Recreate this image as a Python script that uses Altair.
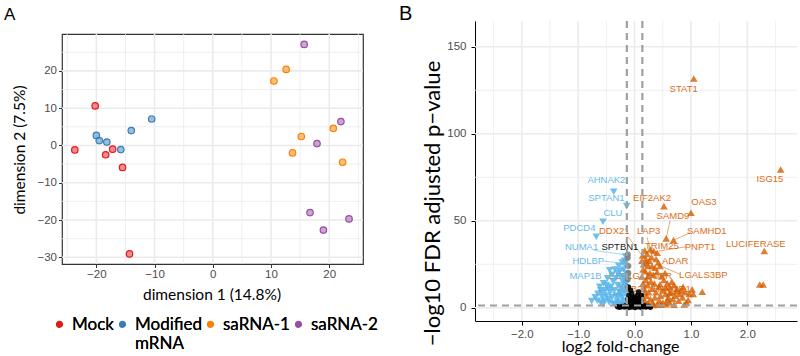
import altair as alt
import pandas as pd

# ---------------- Panel A: MDS plot ----------------
groups = ["Mock", "Modified mRNA", "saRNA-1", "saRNA-2"]
group_colors = ["#E41A1C", "#377EB8", "#FF7F00", "#984EA3"]

mock_x = [-20.2, -23.7, -18.4, -17.2, -15.5, -14.3]
mock_y = [10.6, -1.2, -2.5, -1.0, -5.9, -29.1]
mod_x = [-20.0, -19.5, -18.2, -15.8, -14.0, -10.5]
mod_y = [2.7, 1.3, 0.9, -1.1, 4.0, 7.1]
sa1_x = [10.5, 12.6, 15.2, 13.7, 20.7, 22.3]
sa1_y = [17.3, 20.4, 2.4, -2.0, 4.6, -4.5]
sa2_x = [15.7, 22.0, 17.9, 16.7, 19.0, 23.4]
sa2_y = [27.1, 6.4, 0.5, -18.0, -22.7, -19.7]

A_major_x = [-20, -10, 0, 10, 20]
A_minor_x = [-25, -15, -5, 5, 15, 25]
A_major_y = [-30, -20, -10, 0, 10, 20]
A_minor_y = [-25, -15, -5, 5, 15, 25]

# ---------------- Panel B: volcano plot ----------------
up_x = [1.05, 2.59, 0.52, 1.00, 0.56, 0.69, 0.34, 0.40, 2.30, 2.22, 2.28, 1.20, 1.02, 1.04,
        0.14, 0.18, 0.20, 0.22, 0.26, 0.28, 0.30, 0.38, 0.42, 0.45, 0.36, 0.24, 0.16, 0.19,
        0.27, 0.33, 0.40, 0.48, 0.52, 0.58, 0.62, 0.70, 0.75, 0.83, 0.90, 0.97, 0.13, 0.15,
        0.17, 0.20, 0.23, 0.25, 0.29, 0.31, 0.35, 0.38, 0.43, 0.46, 0.50, 0.55, 0.60, 0.65,
        0.68, 0.72, 0.78, 0.85, 0.92, 0.14, 0.18, 0.21, 0.24, 0.28, 0.32, 0.36, 0.40, 0.44,
        0.50, 0.56, 0.62, 0.70, 0.16, 0.19, 0.26, 0.34, 0.47, 0.58, 0.88, 0.80, 0.66, 0.54,
        0.31, 0.21, 0.15, 0.13, 0.45, 0.55, 0.62, 0.74, 0.86, 0.95, 0.18, 0.24]
up_y = [131.8, 79.5, 58.4, 54.6, 39.9, 38.9, 32.6, 31.6, 32.6, 13.4, 13.4, 9.2, 10.6, 8.0,
        30.0, 33.0, 28.0, 31.0, 27.0, 33.5, 29.0, 28.0, 26.0, 24.0, 23.0, 24.0, 25.0, 21.0,
        20.0, 19.0, 20.5, 18.0, 16.0, 14.0, 12.0, 13.0, 11.0, 10.0, 9.0, 8.0, 18.0, 14.0,
        11.0, 16.0, 13.0, 9.0, 15.0, 11.0, 14.0, 9.0, 12.0, 7.0, 10.0, 8.0, 6.0, 9.0,
        5.0, 7.0, 4.0, 6.0, 3.0, 6.0, 4.0, 7.0, 2.5, 5.0, 3.0, 6.0, 2.0, 4.0,
        3.0, 2.0, 3.0, 1.8, 2.0, 1.5, 1.8, 1.6, 1.7, 4.5, 1.9, 8.0, 15.0, 20.0,
        24.0, 26.0, 22.0, 27.0, 13.5, 11.5, 8.5, 9.5, 12.0, 4.5, 9.0, 18.0]

down_x = [-0.37, -0.14, -0.56, -0.68, -0.76, -0.70, -0.65, -0.60, -0.62, -0.55, -0.50, -0.48,
          -0.44, -0.40, -0.38, -0.35, -0.30, -0.28, -0.25, -0.22, -0.20, -0.18, -0.16, -0.15,
          -0.14, -0.17, -0.19, -0.21, -0.24, -0.27, -0.30, -0.33, -0.36, -0.40, -0.43, -0.46,
          -0.50, -0.53, -0.57, -0.60, -0.66, -0.45, -0.38, -0.31, -0.26, -0.22, -0.18, -0.15,
          -0.16, -0.20, -0.28, -0.35, -0.42, -0.52, -0.56, -0.14, -0.16, -0.15, -0.26, -0.33,
          -0.47, -0.58, -0.23, -0.29, -0.19, -0.15]
down_y = [66.7, 58.4, 49.4, 40.8, 3.8, 6.0, 8.0, 10.0, 12.0, 14.0, 13.0, 17.0,
          21.6, 19.0, 15.0, 22.0, 20.0, 24.0, 18.0, 26.0, 22.0, 27.0, 24.0, 20.0,
          17.0, 13.0, 10.0, 15.0, 12.0, 9.0, 13.0, 7.0, 10.0, 6.0, 9.0, 5.0,
          7.0, 4.0, 6.0, 3.0, 4.0, 3.0, 2.5, 4.0, 3.0, 6.0, 4.0, 8.0,
          2.0, 1.8, 1.6, 1.9, 12.0, 10.0, 2.0, 11.0, 29.5, 26.5, 21.0, 17.0,
          11.0, 8.5, 8.0, 6.5, 17.5, 14.0]

ns_x = [-0.10, -0.05, 0.00, 0.05, 0.08, 0.11, -0.12, -0.08, -0.03, 0.02, 0.06, 0.10, -0.11,
        -0.06, 0.00, 0.04, 0.09, -0.09, -0.02, 0.03, 0.07, 0.12, 0.16, 0.20, 0.24, 0.28,
        -0.14, -0.18, -0.22, -0.26, -0.30, -0.05, 0.01, -0.10, 0.12, 0.18, -0.16, 0.02,
        -0.04, 0.07, -0.07, 0.12, -0.11]
ns_y = [7.0, 8.0, 6.0, 7.0, 5.0, 4.0, 5.0, 4.0, 3.5, 4.5, 3.0, 2.0, 2.5,
        2.0, 2.2, 1.8, 1.5, 1.4, 1.2, 0.9, 0.6, 1.0, 0.7, 0.4, 0.8, 0.3,
        0.9, 0.5, 0.8, 0.3, 0.6, 0.4, 0.1, 0.2, 0.2, 1.1, 1.1, 3.0,
        5.5, 9.0, 10.0, 7.0, 12.0]

grey_x = [-0.12, -0.12, -0.11, -0.11, -0.12]
grey_y = [30.7, 28.7, 24.0, 20.0, 16.3]

lab_gene = ["STAT1", "ISG15", "AHNAK2", "SPTAN1", "CLU", "PDCD4", "NUMA1", "SPTBN1", "HDLBP",
            "MAP1B", "EEF1G", "PHB2", "DDX21", "LAP3", "EIF2AK2", "OAS3", "SAMD9", "SAMHD1",
            "TRIM25", "PNPT1", "ADAR", "EGFR", "LGALS3BP", "HAVCR1", "LUCIFERASE"]
lab_x = [0.87, 2.40, -0.50, -0.50, -0.385, -0.98, -0.94, -0.26, -0.82,
         -0.87, -0.18, -0.08, -0.36, 0.25, 0.31, 1.23, 0.68, 1.28,
         0.485, 1.16, 0.72, 0.43, 1.22, 0.66, 2.15]
lab_y = [125.5, 74.0, 73.4, 63.2, 54.3, 45.6, 35.1, 35.1, 26.8,
         18.5, 18.2, 10.6, 43.9, 43.9, 63.2, 60.7, 52.7, 43.9,
         35.5, 35.1, 26.8, 18.2, 18.6, 10.6, 36.8]
lab_col = ["up", "up", "down", "down", "down", "down", "down", "ns", "down",
           "down", "up", "up", "up", "up", "up", "up", "up", "up",
           "up", "up", "up", "up", "up", "up", "up"]

seg_x1 = [-0.73, -0.55, 0.63, 0.99, 0.92, 0.81, 0.22, -0.12]
seg_y1 = [33.0, 26.8, 50.2, 43.1, 35.1, 19.2, 40.5, 41.0]
seg_x2 = [-0.17, -0.17, 0.56, 0.69, 0.43, 0.40, 0.30, 0.18]
seg_y2 = [30.5, 25.5, 39.9, 38.9, 32.6, 24.9, 31.0, 28.0]
seg_col = ["down", "down", "up", "up", "up", "up", "up", "up"]

B_major_x = [-2, -1, 0, 1, 2]
B_minor_x = [-2.5, -1.5, -0.5, 0.5, 1.5, 2.5]
B_major_y = [0, 50, 100, 150]
B_minor_y = [25, 75, 125]
fc_cut = [-0.1375, 0.1375]
p_cut = [1.301]

C_UP = "#D55E00"
C_DOWN = "#56B4E9"

# ---------------- build panel A ----------------
rows = []
for g, xs, ys in zip(groups, [mock_x, mod_x, sa1_x, sa2_x], [mock_y, mod_y, sa1_y, sa2_y]):
    for a, b in zip(xs, ys):
        rows.append({"d1": a, "d2": b, "group": g})
mds = pd.DataFrame(rows)

xA = alt.Scale(domain=[-25.9, 25.8], nice=False, zero=False)
yA = alt.Scale(domain=[-31.8, 29.9], nice=False, zero=False)

axA = dict(labelFont="Liberation Sans", labelFontSize=11.5, labelColor="#4D4D4D",
           tickColor="#333333", tickSize=3.5, tickWidth=1, domain=False, grid=False,
           titleFont="Lato", titleFontSize=15.5, titleFontWeight="normal", titleColor="black")

def vgrid(vals, field, scale, width):
    return alt.Chart(pd.DataFrame({field: vals})).mark_rule(color="#EBEBEB", strokeWidth=width).encode(
        x=alt.X(f"{field}:Q", scale=scale))

def hgrid(vals, field, scale, width):
    return alt.Chart(pd.DataFrame({field: vals})).mark_rule(color="#EBEBEB", strokeWidth=width).encode(
        y=alt.Y(f"{field}:Q", scale=scale))

# legend symbol: unit circle drawn a little below the entry centre so that it sits
# at the middle of the (top-anchored) label text
LEG_SYMBOL = "M -1,2.6 A 1,1 0 1,0 1,2.6 A 1,1 0 1,0 -1,2.6 Z"

color_scale = alt.Scale(domain=groups, range=group_colors)
legA = alt.Legend(title=None, orient="none", legendX=-11, legendY=287, direction="horizontal",
                  columns=4, gridAlign="none",
                  labelFont="Lato", labelFontSize=17, labelFontWeight="normal", labelColor="black",
                  labelBaseline="top",
                  symbolSize=36, symbolType=LEG_SYMBOL, columnPadding=0, labelOffset=4, padding=0,
                  labelLimit=300, symbolStrokeWidth=1.2,
                  labelExpr="datum.label == 'Modified mRNA' ? ['Modified', 'mRNA'] : datum.label")

ptsA = alt.Chart(mds).mark_point(shape="circle", size=42, strokeWidth=1.2, fillOpacity=0.5,
                                 opacity=1, filled=False).encode(
    x=alt.X("d1:Q", scale=xA, axis=alt.Axis(values=A_major_x, title="dimension 1 (14.8%)",
                                            titleX=149.5, titleY=30.5, titleBaseline="middle",
                                            titleAlign="center", labelPadding=1, **axA)),
    y=alt.Y("d2:Q", scale=yA, axis=alt.Axis(values=A_major_y, title="dimension 2 (7.5%)",
                                            titleX=-42.5, titleY=115.5, titleAngle=270,
                                            titleBaseline="middle", titleAlign="center",
                                            labelPadding=2, **axA)),
    color=alt.Color("group:N", scale=color_scale, legend=legA),
    fill=alt.Fill("group:N", scale=color_scale, legend=legA),
)

left = alt.layer(
    vgrid(A_minor_x, "d1", xA, 0.8), hgrid(A_minor_y, "d2", yA, 0.8),
    vgrid(A_major_x, "d1", xA, 1.6), hgrid(A_major_y, "d2", yA, 1.6),
    ptsA,
).properties(width=301, height=230,
             view=alt.ViewBackground(stroke="#333333", strokeWidth=1.2))

tagA = alt.Chart(pd.DataFrame({"tag": ["A"]})).mark_text(
    align="left", baseline="alphabetic", fontSize=17, font="Liberation Sans", color="black"
).encode(text="tag:N", x=alt.value(-58), y=alt.value(-1)).properties(
    width=301, height=13, view=alt.ViewBackground(stroke="transparent"))

left_panel = alt.vconcat(tagA, left, spacing=0, bounds="flush")

# ---------------- build panel B ----------------
xB = alt.Scale(domain=[-2.83, 2.88], nice=False, zero=False)
yB = alt.Scale(domain=[-7.6, 164.8], nice=False, zero=False)

axB = dict(labelFont="Liberation Sans", labelFontSize=11.5, labelColor="#4D4D4D",
           tickColor="black", tickSize=4, tickWidth=1, domain=True, domainColor="black",
           domainWidth=1, grid=False, titleFont="Lato", titleFontWeight="normal",
           titleColor="black")

up_df = pd.DataFrame({"lfc": up_x, "nlp": up_y})
down_df = pd.DataFrame({"lfc": down_x, "nlp": down_y})
ns_df = pd.DataFrame({"lfc": ns_x, "nlp": ns_y})
grey_df = pd.DataFrame({"lfc": grey_x, "nlp": grey_y})

col_map = alt.Scale(domain=["up", "down", "ns"], range=[C_UP, C_DOWN, "black"])

lab_df = pd.DataFrame({"lfc": lab_x, "nlp": lab_y, "gene": lab_gene, "kind": lab_col})
seg_df = pd.DataFrame({"lfc": seg_x1, "nlp": seg_y1, "lfc2": seg_x2, "nlp2": seg_y2, "kind": seg_col})

segs = alt.Chart(seg_df).mark_rule(strokeWidth=0.9, opacity=0.6).encode(
    x=alt.X("lfc:Q", scale=xB), y=alt.Y("nlp:Q", scale=yB), x2="lfc2:Q", y2="nlp2:Q",
    color=alt.Color("kind:N", scale=col_map, legend=None))

labels = alt.Chart(lab_df).mark_text(fontSize=9.5, font="Liberation Sans", align="center",
                                     baseline="middle", opacity=0.9).encode(
    x=alt.X("lfc:Q", scale=xB), y=alt.Y("nlp:Q", scale=yB), text="gene:N",
    color=alt.Color("kind:N", scale=col_map, legend=None))

down_pts = alt.Chart(down_df).mark_point(shape="triangle-down", filled=True, size=58,
                                         color=C_DOWN, opacity=0.85).encode(
    x=alt.X("lfc:Q", scale=xB), y=alt.Y("nlp:Q", scale=yB))
up_pts = alt.Chart(up_df).mark_point(shape="triangle-up", filled=True, size=58,
                                     color=C_UP, opacity=0.8).encode(
    x=alt.X("lfc:Q", scale=xB), y=alt.Y("nlp:Q", scale=yB))
ns_pts = alt.Chart(ns_df).mark_point(shape="circle", filled=True, size=30,
                                     color="black", opacity=0.9).encode(
    x=alt.X("lfc:Q", scale=xB), y=alt.Y("nlp:Q", scale=yB))
grey_pts = alt.Chart(grey_df).mark_point(shape="circle", filled=True, size=35,
                                         color="#7F7F7F", opacity=0.9).encode(
    x=alt.X("lfc:Q", scale=xB,
            axis=alt.Axis(values=B_major_x, title="log2 fold-change", titleX=145, titleY=25.5,
                          titleBaseline="middle", titleAlign="center", titleFontSize=16,
                          labelPadding=3, **axB)),
    y=alt.Y("nlp:Q", scale=yB,
            axis=alt.Axis(values=B_major_y, title="\u2212log10 FDR adjusted p\u2212value",
                          titleX=-43, titleY=182, titleAngle=270, titleBaseline="middle",
                          titleAlign="center", titleFontSize=22, labelPadding=5, **axB)))

vcut = alt.Chart(pd.DataFrame({"lfc": fc_cut})).mark_rule(
    color="#A0A0A0", strokeWidth=2.2, strokeDash=[7, 5]).encode(x=alt.X("lfc:Q", scale=xB))
hcut = alt.Chart(pd.DataFrame({"nlp": p_cut})).mark_rule(
    color="#A0A0A0", strokeWidth=2.2, strokeDash=[7, 5]).encode(y=alt.Y("nlp:Q", scale=yB))

tagB = alt.Chart(pd.DataFrame({"tag": ["B"]})).mark_text(
    align="left", baseline="alphabetic", fontSize=20, font="Liberation Sans", color="black"
).encode(text="tag:N", x=alt.value(-76), y=alt.value(-1.5))

right = alt.layer(
    vgrid(B_minor_x, "lfc", xB, 0.8), hgrid(B_minor_y, "nlp", yB, 0.8),
    vgrid(B_major_x, "lfc", xB, 1.6), hgrid(B_major_y, "nlp", yB, 1.6),
    segs, labels, down_pts, up_pts, ns_pts, grey_pts, vcut, hcut, tagB,
).properties(width=322, height=300, view=alt.ViewBackground(stroke="transparent"))

chart = alt.hconcat(left_panel, right, spacing=20).properties(
    padding={"left": 3, "top": 3, "right": 0, "bottom": 0},
    background="white",
).resolve_scale(color="independent")

chart.save("out.html", embed_options={"renderer": "svg", "actions": False})
